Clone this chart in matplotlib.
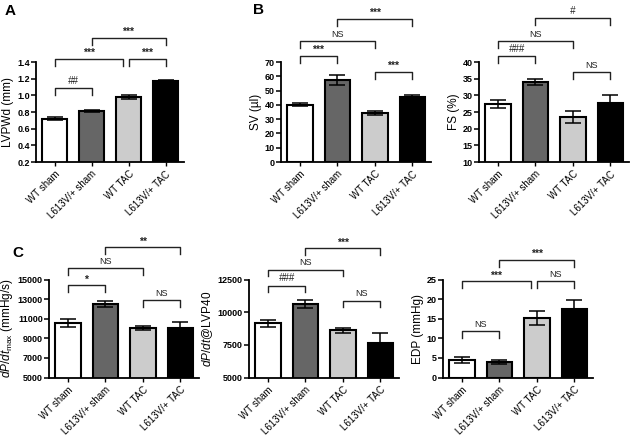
import matplotlib
matplotlib.use('Agg')
import matplotlib.pyplot as plt
import numpy as np

plt.rcParams['font.family'] = ['Liberation Sans', 'DejaVu Sans']
plt.rcParams['mathtext.fontset'] = 'custom'
plt.rcParams['mathtext.rm'] = 'Liberation Sans'
plt.rcParams['mathtext.it'] = 'Liberation Sans:italic'

# Dados
groups = ['WT sham', 'L613V/+ sham', 'WT TAC', 'L613V/+ TAC']
colors = ['white', '#666666', '#cccccc', 'black']

lvpwd = [0.72, 0.81, 0.98, 1.175]
lvpwd_err = [0.02, 0.015, 0.025, 0.01]

sv = [40.0, 57.5, 34.5, 45.5]
sv_err = [1.0, 3.5, 1.5, 1.5]

fs = [27.5, 34.0, 23.5, 27.8]
fs_err = [1.2, 1.0, 1.7, 2.2]

dpdt_max = [10600, 12500, 10050, 10100]
dpdt_max_err = [400, 350, 200, 600]

dpdt_lvp40 = [9150, 10600, 8600, 7650]
dpdt_lvp40_err = [280, 300, 220, 750]

edp = [4.5, 4.0, 15.2, 17.5]
edp_err = [0.7, 0.5, 1.7, 2.3]

# comparações: (barra i, barra j, altura do colchete, texto)
comp_a = [(0, 1, 1.088, '##'), (0, 2, 1.436, '***'), (2, 3, 1.436, '***'), (1, 3, 1.688, '***')]
comp_sv = [(0, 1, 74.2, '***'), (0, 2, 84.8, 'NS'), (2, 3, 63.0, '***'), (1, 3, 100.4, '***')]
comp_fs = [(0, 1, 41.8, '###'), (0, 2, 46.4, 'NS'), (2, 3, 37.0, 'NS'), (1, 3, 53.3, '#')]
comp_c1 = [(0, 1, 14400, '*'), (0, 2, 16130, 'NS'), (2, 3, 12940, 'NS'), (1, 3, 18270, '**')]
comp_c2 = [(0, 1, 12040, '###'), (0, 2, 13260, 'NS'), (2, 3, 10890, 'NS'), (1, 3, 14890, '***')]
comp_edp = [(0, 1, 11.9, 'NS'), (0, 2, 24.6, '***'), (2, 3, 24.6, 'NS'), (1, 3, 30.0, '***')]


def painel(rect, vals, errs, ylim, yticks, ylabel, comps, fmt='%d'):
    ax = fig.add_axes(rect)
    x = np.arange(len(groups))
    ax.bar(x, vals, width=0.68, color=colors, edgecolor='black', linewidth=1.5, zorder=2)
    ax.errorbar(x, vals, yerr=errs, fmt='none', ecolor='black', elinewidth=1.1,
                capsize=6, capthick=1.1, zorder=3)
    ax.set_xlim(-0.5, 3.5)
    ax.set_ylim(*ylim)
    ax.set_yticks(yticks)
    ax.set_yticklabels([fmt % t for t in yticks], fontsize=6.5, fontweight='bold')
    ax.set_xticks(x)
    ax.set_xticklabels(groups, rotation=45, ha='right', rotation_mode='anchor', fontsize=7)
    ax.set_ylabel(ylabel, fontsize=8.5, labelpad=2)
    for s in ['top', 'right']:
        ax.spines[s].set_visible(False)
    for s in ['left', 'bottom']:
        ax.spines[s].set_linewidth(1.3)
    ax.tick_params(axis='y', length=3.5, width=1.1, pad=1)
    ax.tick_params(axis='x', length=3, width=1, pad=2)

    # colchetes de significância
    leg = 0.07 * (ylim[1] - ylim[0])
    for i, j, h, txt in comps:
        x0, x1 = float(i), float(j)
        for i2, j2, h2, _ in comps:
            if abs(h2 - h) < 1e-9 and (i2, j2) != (i, j):
                if j == i2:
                    x1 -= 0.15
        ax.plot([x0, x0, x1, x1], [h - leg, h, h, h - leg], color='#222222',
                linewidth=1.0, clip_on=False, zorder=4)
        star = txt.startswith('*')
        hash_ = txt.startswith('#')
        ax.annotate(txt, ((x0 + x1) / 2, h), xytext=(0, 0.5 if star else 1.5),
                    textcoords='offset points', ha='center', va='bottom',
                    fontsize=7.5 if star else (7 if hash_ else 6.5),
                    fontweight='bold' if star else 'normal',
                    fontstyle='italic' if hash_ else 'normal',
                    color='#222222', annotation_clip=False)
    return ax


fig = plt.figure(figsize=(6.33, 4.41), dpi=100)
W, H = 633.0, 441.0

painel([36 / W, 1 - 162 / H, 148 / W, 100 / H], lvpwd, lvpwd_err, (0.2, 1.4),
       [0.2, 0.4, 0.6, 0.8, 1.0, 1.2, 1.4], 'LVPWd (mm)', comp_a, fmt='%.1f')
painel([281 / W, 1 - 162 / H, 150 / W, 100 / H], sv, sv_err, (0, 70),
       [0, 10, 20, 30, 40, 50, 60, 70], 'SV (µl)', comp_sv)
painel([479 / W, 1 - 162 / H, 150 / W, 100 / H], fs, fs_err, (10, 40),
       [10, 15, 20, 25, 30, 35, 40], 'FS (%)', comp_fs)

painel([49 / W, 1 - 377.5 / H, 150 / W, 98 / H], dpdt_max, dpdt_max_err, (5000, 15000),
       [5000, 7000, 9000, 11000, 13000, 15000], r'$dP/dt_{\mathrm{max}}$ (mmHg/s)', comp_c1)
painel([249 / W, 1 - 377.5 / H, 150 / W, 98 / H], dpdt_lvp40, dpdt_lvp40_err, (5000, 12500),
       [5000, 7500, 10000, 12500], r'$dP/dt$@LVP40', comp_c2)
painel([443 / W, 1 - 377.5 / H, 150 / W, 98 / H], edp, edp_err, (0, 25),
       [0, 5, 10, 15, 20, 25], 'EDP (mmHg)', comp_edp)

# letras dos painéis
fig.text(5 / W, 1 - 11 / H, 'A', fontsize=11, fontweight='bold', va='center')
fig.text(253 / W, 1 - 10 / H, 'B', fontsize=11, fontweight='bold', va='center')
fig.text(12 / W, 1 - 253 / H, 'C', fontsize=11, fontweight='bold', va='center')

fig.savefig('out.png', dpi=100)
